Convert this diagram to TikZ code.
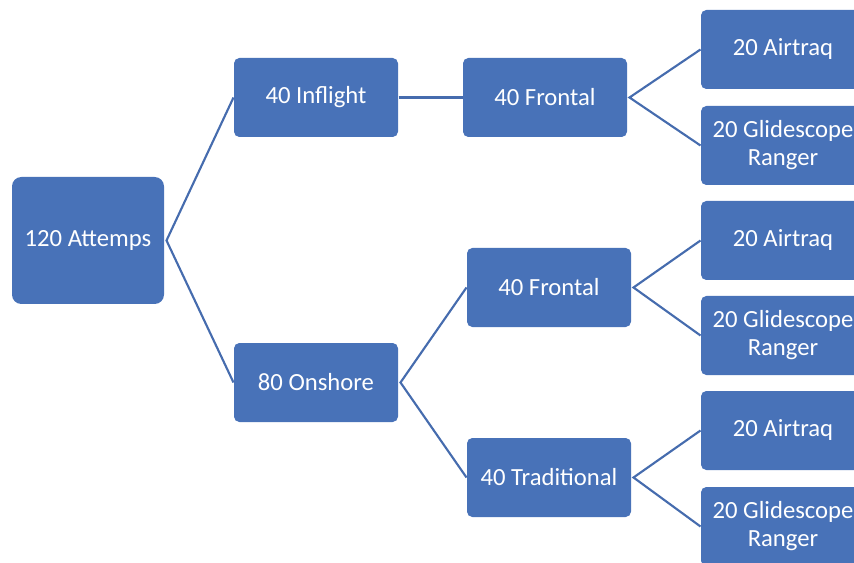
\documentclass[tikz,border=0pt]{standalone}
\usepackage{fontspec}
\setmainfont{Carlito}
\usetikzlibrary{positioning}

\definecolor{boxblue}{RGB}{72,114,184}
\definecolor{lineblue}{RGB}{70,108,174}

\tikzset{every picture/.style={line width=0.75pt}}
\tikzset{
  box/.style={fill=boxblue, draw=none, rounded corners=4pt, text=white, align=center,
    minimum width=123pt, minimum height=59.25pt, inner sep=2pt,
    font=\fontsize{18.5}{21}\selectfont},
  rootbox/.style={box, rounded corners=7pt, minimum width=114pt, minimum height=95.25pt},
  link/.style={draw=lineblue, line width=1.6pt}
}

\begin{document}
\begin{tikzpicture}[x=0.75pt,y=0.75pt,yscale=-1,xscale=1]
\useasboundingbox (0,0) rectangle (854,563);
\clip (0,0) rectangle (854,563);

%Nodes: root and first level
\node[rootbox] (attempts) at (88,240.5) {120 Attemps};
\node[box] (inflight) at (316,97.5) {40 Inflight};
\node[box] (onshore) at (316,382.5) {80 Onshore};

%Nodes: second level
\node[box] (frontalA) at (545,97.5) {40 Frontal};
\node[box] (frontalB) at (549,287.5) {40 Frontal};
\node[box] (traditional) at (549,477.5) {40 Traditional};

%Nodes: leaves
\node[box] (airtraqA) at (783,49.5) {20 Airtraq};
\node[box] (glideA) at (783,145.5) {20 Glidescope\\Ranger};
\node[box] (airtraqB) at (783,240.5) {20 Airtraq};
\node[box] (glideB) at (783,335.5) {20 Glidescope\\Ranger};
\node[box] (airtraqC) at (783,430.5) {20 Airtraq};
\node[box] (glideC) at (783,526.5) {20 Glidescope\\Ranger};

%Connectors
\draw[link] (inflight.west) -- ([xshift=1.5pt]attempts.east) -- (onshore.west);
\draw[link] (inflight.east) -- (frontalA.west);
\draw[link] (frontalB.west) -- ([xshift=1.5pt]onshore.east) -- (traditional.west);
\draw[link] (airtraqA.west) -- ([xshift=1.5pt]frontalA.east) -- (glideA.west);
\draw[link] (airtraqB.west) -- ([xshift=1.5pt]frontalB.east) -- (glideB.west);
\draw[link] (airtraqC.west) -- ([xshift=1.5pt]traditional.east) -- (glideC.west);
\end{tikzpicture}
\end{document}
